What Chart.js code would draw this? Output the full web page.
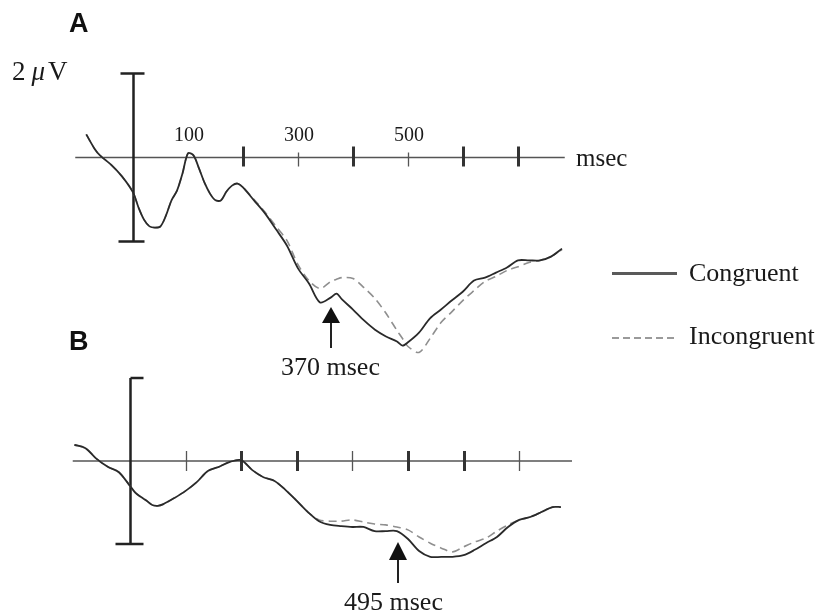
<!DOCTYPE html>
<html><head><meta charset="utf-8">
<script src="https://cdn.jsdelivr.net/npm/chart.js@4.4.0/dist/chart.umd.min.js"></script>
<style>
html,body{margin:0;padding:0;background:#fff;}
#wrap{position:relative;width:822px;height:615px;overflow:hidden;background:#fff;}
canvas{position:absolute;left:0;}
.t{position:absolute;font-family:"Liberation Serif","Times New Roman",serif;color:#1a1a1a;white-space:nowrap;line-height:1;}
.p{position:absolute;font-family:"Liberation Sans",Arial,sans-serif;font-weight:bold;color:#111;line-height:1;}
.leg{position:absolute;width:65px;left:612px;}
</style></head><body>
<div id="wrap">
<canvas id="cA" width="822" height="370" style="top:0"></canvas>
<canvas id="cB" width="822" height="245" style="top:370px"></canvas>
<div class="p" style="left:69px;top:10px;font-size:27px">A</div>
<div class="p" style="left:69px;top:328px;font-size:27px">B</div>
<div class="t" style="left:12px;top:58px;font-size:27px">2<i style="margin-left:6px">μ</i><span style="margin-left:3px">V</span></div>
<div class="t" style="left:576px;top:145px;font-size:25px">msec</div>
<div class="t" style="left:281px;top:354px;font-size:26px">370 msec</div>
<div class="t" style="left:344px;top:589px;font-size:26px">495 msec</div>
<div class="leg" style="top:272px;height:2.5px;background:#5a5a5a"></div>
<div class="leg" style="top:337px;height:1.6px;background:repeating-linear-gradient(to right,#9a9a9a 0 7px,transparent 7px 11px)"></div>
<div class="t" style="left:689px;top:260px;font-size:26px">Congruent</div>
<div class="t" style="left:689px;top:323px;font-size:26px">Incongruent</div>
</div>
<script>
// ---- data (time in msec, amplitude in µV) ----
const timesA = [-85,-70,-60,-40,-20,0,10,20,30,40,50,60,70,80,90,100,110,120,130,140,150,160,170,180,190,200,220,240,260,280,300,320,340,360,370,380,400,420,440,460,480,490,500,520,540,560,580,600,620,640,660,680,700,720,740,760,780];
const congruentA = [0.55,0.21,0.05,-0.17,-0.45,-0.83,-1.19,-1.48,-1.64,-1.67,-1.64,-1.38,-1.02,-0.79,-0.38,0.10,0.05,-0.26,-0.60,-0.86,-1.02,-1.02,-0.81,-0.67,-0.62,-0.71,-1.02,-1.33,-1.71,-2.10,-2.64,-3.00,-3.45,-3.33,-3.24,-3.38,-3.62,-3.88,-4.10,-4.26,-4.38,-4.48,-4.40,-4.17,-3.83,-3.62,-3.40,-3.19,-2.93,-2.86,-2.74,-2.62,-2.45,-2.45,-2.45,-2.36,-2.17];
const incongruentA = [0.55,0.21,0.05,-0.17,-0.45,-0.83,-1.19,-1.48,-1.64,-1.67,-1.64,-1.38,-1.02,-0.79,-0.38,0.10,0.05,-0.26,-0.60,-0.86,-1.02,-1.02,-0.81,-0.67,-0.62,-0.71,-1.00,-1.30,-1.64,-1.98,-2.55,-2.93,-3.12,-2.95,-2.90,-2.86,-2.88,-3.10,-3.36,-3.71,-4.12,-4.31,-4.50,-4.64,-4.31,-3.93,-3.67,-3.40,-3.17,-2.95,-2.83,-2.69,-2.60,-2.50,-2.45,-2.36,-2.19];

const timesB = [-100,-80,-60,-40,-20,0,10,20,30,40,50,60,80,100,120,140,160,180,200,220,240,260,280,300,320,340,360,380,400,420,440,460,480,500,520,540,560,580,600,620,640,660,680,700,720,740,760,775];
const congruentB = [0.39,0.31,0.05,-0.14,-0.27,-0.60,-0.77,-0.87,-0.96,-1.06,-1.08,-1.04,-0.89,-0.72,-0.51,-0.24,-0.14,-0.02,0.02,-0.22,-0.39,-0.48,-0.70,-0.96,-1.23,-1.45,-1.54,-1.57,-1.59,-1.59,-1.69,-1.69,-1.69,-1.88,-2.17,-2.31,-2.31,-2.31,-2.27,-2.14,-1.98,-1.83,-1.59,-1.42,-1.35,-1.23,-1.11,-1.11];
const incongruentB = [0.39,0.31,0.05,-0.14,-0.27,-0.60,-0.77,-0.87,-0.96,-1.06,-1.08,-1.04,-0.89,-0.72,-0.51,-0.24,-0.14,-0.02,0.02,-0.22,-0.39,-0.48,-0.70,-0.96,-1.23,-1.42,-1.45,-1.45,-1.42,-1.47,-1.52,-1.54,-1.59,-1.66,-1.83,-1.98,-2.10,-2.19,-2.07,-1.95,-1.86,-1.69,-1.54,-1.42,-1.35,-1.23,-1.11,-1.11];

// ticks along the time axis (msec); thick = major
const tickTimesA = [200,300,400,500,600,700];
const tickMajorA = [true,false,true,false,true,true];
const tickTimesB = [100,200,300,400,500,600,700];
const tickMajorB = [false,true,true,false,true,true,false];
const tickLabelTimes = [100,300,500];
const tickLabels = ['100','300','500'];
const seriesNames = ['Congruent','Incongruent'];
const scaleBar = 2; // µV
const arrowTimeA = 360, arrowTimeB = 482;

const pts = (t, v) => t.map((tt, i) => ({x: tt, y: v[i]}));

const erpAxes = {
  id: 'erpAxes',
  beforeDatasetsDraw(chart, args, o) {
    const {ctx} = chart;
    const X = chart.scales.x, Y = chart.scales.y;
    const y0 = Y.getPixelForValue(0);
    ctx.save();
    ctx.strokeStyle = '#555'; ctx.lineWidth = 1.5;
    ctx.beginPath();
    ctx.moveTo(X.getPixelForValue(o.from), y0);
    ctx.lineTo(X.getPixelForValue(o.to), y0);
    ctx.stroke();
    o.ticks.forEach((t, i) => {
      const px = Math.round(X.getPixelForValue(t)) + 0.5;
      const major = o.major[i];
      ctx.strokeStyle = major ? '#333' : '#555';
      ctx.lineWidth = major ? 3 : 1.3;
      ctx.beginPath();
      ctx.moveTo(px, y0 - (major ? o.up : o.upMinor));
      ctx.lineTo(px, y0 + o.down);
      ctx.stroke();
    });
    if (o.labels) {
      ctx.fillStyle = '#1a1a1a';
      ctx.font = '20px "Liberation Serif", "Times New Roman", serif';
      ctx.textAlign = 'center'; ctx.textBaseline = 'alphabetic';
      o.labels.t.forEach((t, i) => {
        ctx.fillText(o.labels.s[i], X.getPixelForValue(t) + 1, y0 - 17);
      });
    }
    const bx = Math.round(X.getPixelForValue(0)) + 0.5;
    const yt = Y.getPixelForValue(scaleBar), yb = Y.getPixelForValue(-scaleBar);
    ctx.strokeStyle = '#222'; ctx.lineWidth = 2.5;
    ctx.beginPath();
    ctx.moveTo(bx, yt); ctx.lineTo(bx, yb);
    ctx.moveTo(bx + o.capTop[0], yt); ctx.lineTo(bx + o.capTop[1], yt);
    ctx.moveTo(bx + o.capBot[0], yb); ctx.lineTo(bx + o.capBot[1], yb);
    ctx.stroke();
    ctx.restore();
  },
  afterDatasetsDraw(chart, args, o) {
    const {ctx} = chart;
    const X = chart.scales.x;
    const ax = X.getPixelForValue(o.arrow.t);
    ctx.save();
    ctx.fillStyle = '#111'; ctx.strokeStyle = '#222'; ctx.lineWidth = 2;
    ctx.beginPath();
    ctx.moveTo(ax, o.arrow.tip);
    ctx.lineTo(ax - 9, o.arrow.base);
    ctx.lineTo(ax + 9, o.arrow.base);
    ctx.closePath(); ctx.fill();
    ctx.beginPath();
    ctx.moveTo(ax, o.arrow.base); ctx.lineTo(ax, o.arrow.end); ctx.stroke();
    ctx.restore();
  }
};

function makeChart(id, times, cong, incong, geo, axisOpts) {
  const c = document.getElementById(id);
  const W = c.width, H = c.height;
  return new Chart(c, {
    type: 'line',
    data: {
      datasets: [
        {label: seriesNames[0], data: pts(times, cong), borderColor: '#2a2a2a', borderWidth: 1.8, pointRadius: 0, tension: 0.3, fill: false},
        {label: seriesNames[1], data: pts(times, incong), borderColor: '#8f8f8f', borderWidth: 1.6, borderDash: [8, 5], pointRadius: 0, tension: 0.3, fill: false}
      ]
    },
    options: {
      responsive: false, animation: false, devicePixelRatio: 1,
      layout: {padding: 0},
      events: [],
      scales: {
        x: {type: 'linear', display: false, min: -geo.ox / geo.kx, max: (W - geo.ox) / geo.kx},
        y: {type: 'linear', display: false, min: (geo.oy - H) / geo.ky, max: geo.oy / geo.ky}
      },
      plugins: {legend: {display: false}, tooltip: {enabled: false}, erpAxes: axisOpts}
    },
    plugins: [erpAxes]
  });
}

makeChart('cA', timesA, congruentA, incongruentA, {ox: 133, kx: 0.55, oy: 157.5, ky: 42}, {
  from: -105, to: 785, ticks: tickTimesA, major: tickMajorA, up: 11, upMinor: 5, down: 9,
  labels: {t: tickLabelTimes, s: tickLabels},
  capTop: [-13, 11], capBot: [-15, 11],
  arrow: {t: arrowTimeA, tip: 307, base: 323, end: 348}
});
makeChart('cB', timesB, congruentB, incongruentB, {ox: 130, kx: 0.556, oy: 91, ky: 41.5}, {
  from: -103, to: 795, ticks: tickTimesB, major: tickMajorB, up: 10, upMinor: 10, down: 10,
  labels: null,
  capTop: [0, 13], capBot: [-15, 13],
  arrow: {t: arrowTimeB, tip: 172, base: 190, end: 213}
});
</script>
</body></html>
